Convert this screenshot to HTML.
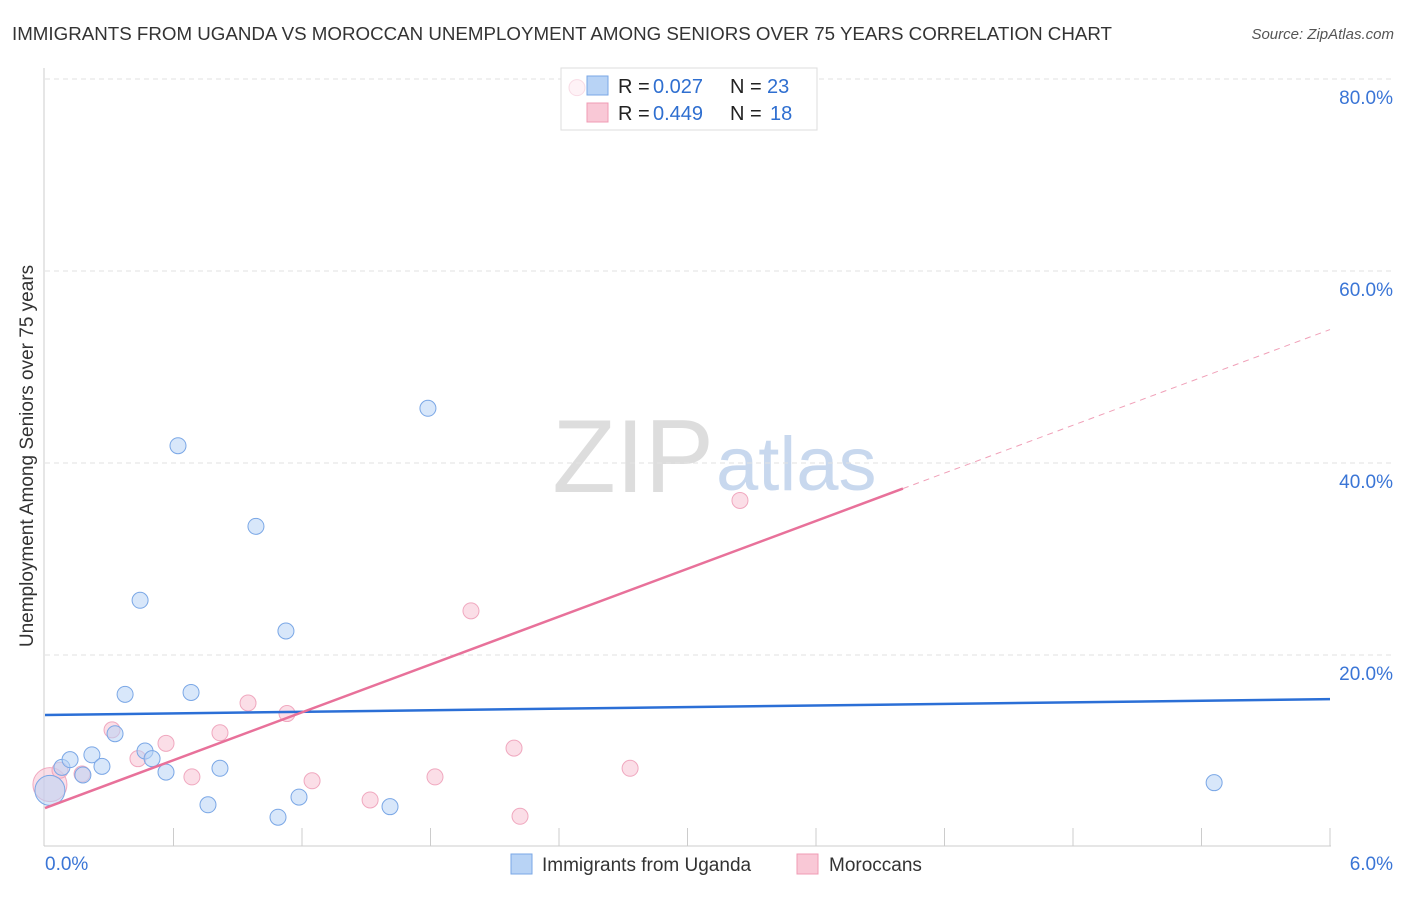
<!DOCTYPE html>
<html><head><meta charset="utf-8"><style>
body{margin:0;background:#fff;font-family:"Liberation Sans",sans-serif;}
svg text{font-family:"Liberation Sans",sans-serif;}
</style></head><body>
<svg id="chart" width="1406" height="892">
<text x="12" y="40" font-size="18" fill="#333" textLength="1100" lengthAdjust="spacingAndGlyphs">IMMIGRANTS FROM UGANDA VS MOROCCAN UNEMPLOYMENT AMONG SENIORS OVER 75 YEARS CORRELATION CHART</text>
<text x="1394" y="39" font-size="15" fill="#555" font-style="italic" text-anchor="end">Source: ZipAtlas.com</text>
<text x="714" y="492" font-size="104" fill="#ddd" font-family="Liberation Serif" text-anchor="end">ZIP</text>
<text x="716" y="490" font-size="76" fill="#c8d8ee">atlas</text>
<text transform="translate(33,456) rotate(-90)" font-size="19" fill="#333" text-anchor="middle">Unemployment Among Seniors over 75 years</text>
<g id="grid"></g>
<g>
<rect x="561" y="68" width="256" height="62" fill="#fff" stroke="#ddd"/>
<rect x="587" y="76" width="21" height="19" fill="#b8d3f5" stroke="#7aa7e6"/>
<rect x="587" y="103" width="21" height="19" fill="#f9c8d6" stroke="#f09bb4"/>
<text x="618" y="93" font-size="20" fill="#222">R =</text>
<text x="653" y="93" font-size="20" fill="#2f6fd0">0.027</text>
<text x="730" y="93" font-size="20" fill="#222">N =</text>
<text x="767" y="93" font-size="20" fill="#2f6fd0">23</text>
<text x="618" y="120" font-size="20" fill="#222">R =</text>
<text x="653" y="120" font-size="20" fill="#2f6fd0">0.449</text>
<text x="730" y="120" font-size="20" fill="#222">N =</text>
<text x="770" y="120" font-size="20" fill="#2f6fd0">18</text>
</g>
<g id="pts"></g><g id="lines"></g>
<g>
<rect x="511" y="854" width="21" height="20" fill="#b8d3f5" stroke="#7aa7e6"/>
<text x="542" y="871" font-size="19" fill="#333">Immigrants from Uganda</text>
<rect x="797" y="854" width="21" height="20" fill="#f9c8d6" stroke="#f09bb4"/>
<text x="829" y="871" font-size="19" fill="#333">Moroccans</text>
</g>
</svg>
<script>
const ugX=[0.023,0.079,0.117,0.177,0.219,0.266,0.327,0.374,0.444,0.467,0.5,0.565,0.621,0.682,0.761,0.817,0.985,1.088,1.125,1.186,1.611,1.788,5.459];
const ugY=[5.9,8.3,9.1,7.5,9.6,8.4,11.8,15.9,25.7,10.0,9.2,7.8,41.8,16.1,4.4,8.2,33.4,3.1,22.5,5.2,4.2,45.7,6.7];
const moX=[0.023,0.07,0.173,0.313,0.434,0.565,0.686,0.817,0.948,1.13,1.247,1.518,1.821,1.989,2.19,2.218,2.732,3.245,2.484];
const moY=[6.5,8.0,7.6,12.2,9.2,10.8,7.3,11.9,15.0,13.9,6.9,4.9,7.3,24.6,10.3,3.2,8.2,36.1,79.1];
const yTicks=[20,40,60,80];
const xTickLabels=["0.0%","6.0%"];
const ugLine=[13.75,15.4];
const moLine=[4.06,53.9];
const sx=v=>45+v/6*1285, sy=v=>847-v*9.6;
const NS="http://www.w3.org/2000/svg";
function mk(p,t,a){const e=document.createElementNS(NS,t);for(const k in a)e.setAttribute(k,a[k]);p.appendChild(e);return e;}
const g=document.getElementById('grid');
yTicks.forEach(t=>{
 const l=mk(g,'line',{x1:45,x2:1392,y1:sy(t),y2:sy(t),stroke:'#e2e2e2','stroke-dasharray':'5,4'});
 
 
 const tx=mk(g,'text',{x:1393,y:sy(t)+25,'font-size':19,fill:'#3a75d6','text-anchor':'end'});tx.textContent=t.toFixed(1)+'%';
 
 
});
mk(g,'line',{x1:44,x2:44,y1:68,y2:846,stroke:'#ccc'});
mk(g,'line',{x1:44,x2:1331,y1:846,y2:846,stroke:'#ccc'});
for(let i=1;i<=10;i++){mk(g,'line',{x1:sx(i*0.6),x2:sx(i*0.6),y1:828,y2:846,stroke:'#ccc'});}
const t0=mk(g,'text',{x:45,y:870,'font-size':19,fill:'#3a75d6'});t0.textContent=xTickLabels[0];


const t1=mk(g,'text',{x:1393,y:870,'font-size':19,fill:'#3a75d6','text-anchor':'end'});t1.textContent=xTickLabels[1];


const p=document.getElementById('pts');
moX.forEach((x,i)=>{const c=mk(p,'circle',{cx:sx(x),cy:sy(moY[i]),r:i==0?17:8,fill:'rgba(248,190,208,0.5)',stroke:'#f0a8bf','stroke-width':1,opacity:i==18?0.4:1});
 
 });
ugX.forEach((x,i)=>{const c=mk(p,'circle',{cx:sx(x),cy:sy(ugY[i]),r:i==0?15:8,fill:'rgba(184,211,245,0.55)',stroke:'#7aa7e6','stroke-width':1});
 
 });
const L=document.getElementById('lines');
const bl=mk(L,'line',{x1:sx(0),y1:sy(ugLine[0]),x2:sx(6),y2:sy(ugLine[1]),stroke:'#2b6fd6','stroke-width':2.5});


const mAt=x=>moLine[0]+(moLine[1]-moLine[0])*x/6;
const pl=mk(L,'line',{x1:sx(0),y1:sy(mAt(0)),x2:sx(4.006),y2:sy(mAt(4.006)),stroke:'#e8719a','stroke-width':2.5});


const pd=mk(L,'line',{x1:sx(4.006),y1:sy(mAt(4.006)),x2:sx(6),y2:sy(mAt(6)),stroke:'#f0a0b8','stroke-width':1,'stroke-dasharray':'6,5'});


</script>
</body></html>
